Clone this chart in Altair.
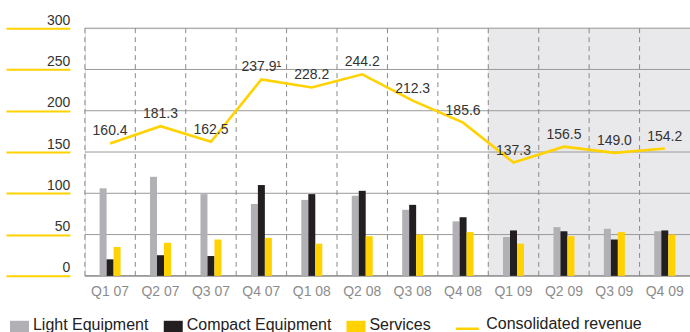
import altair as alt
import pandas as pd

quarters = ["Q1 07", "Q2 07", "Q3 07", "Q4 07", "Q1 08", "Q2 08",
            "Q3 08", "Q4 08", "Q1 09", "Q2 09", "Q3 09", "Q4 09"]
light = [106, 120, 99, 87, 92, 97, 80, 66, 47, 59, 57, 54]
compact = [20, 25, 24, 110, 99, 103, 86, 71, 55, 54, 44, 55]
services = [35, 40, 44, 46, 39, 48, 50, 53, 39, 48, 53, 50]
revenue = [160.4, 181.3, 162.5, 237.9, 228.2, 244.2, 212.3, 185.6, 137.3, 156.5, 149.0, 154.2]
revenue_labels = ["160.4", "181.3", "162.5", "237.9\u00b9", "228.2", "244.2",
                  "212.3", "185.6", "137.3", "156.5", "149.0", "154.2"]
shaded = ["Q1 09", "Q2 09", "Q3 09", "Q4 09"]
y_ticks = [0, 50, 100, 150, 200, 250, 300]

bar_series = ["Light Equipment", "Compact Equipment", "Services"]
bar_colors = ["#b1b1b5", "#231f20", "#ffd200"]
line_series = ["Consolidated revenue"]
line_colors = ["#ffd200"]

FONT = "Liberation Sans"

bars_df = pd.DataFrame(
    [{"q": q, "series": s, "v": v}
     for s, vals in zip(bar_series, [light, compact, services])
     for q, v in zip(quarters, vals)]
)
line_df = pd.DataFrame({"q": quarters, "v": revenue, "label": revenue_labels,
                        "series": line_series[0]})
shade_df = pd.DataFrame({"q": shaded, "top": 300, "bottom": 0})
grid_df = pd.DataFrame({"y": y_ticks})
vgrid_df = pd.DataFrame({"q": quarters})

xscale = alt.Scale(domain=quarters, paddingInner=0, paddingOuter=0)
yscale = alt.Scale(domain=[0, 300], nice=False)

x_axis = alt.Axis(title=None, ticks=False, domain=False, grid=False,
                  labelFont=FONT, labelFontSize=14, labelColor="#8c8c8c",
                  labelPadding=9, labelAngle=0)
y_axis = alt.Axis(title=None, values=y_ticks, domain=False, grid=False,
                  ticks=True, tickSize=64, tickColor="#ffd200", tickWidth=2,
                  offset=15, labelPadding=-64, labelAlign="right",
                  labelBaseline="alphabetic", labelOffset=-4,
                  labelFont=FONT, labelFontSize=14, labelColor="#333333")

shade = alt.Chart(shade_df).mark_rect(color="#e9e9eb", stroke="#e9e9eb", strokeWidth=0.6).encode(
    x=alt.X("q:N", scale=xscale, axis=x_axis, sort=quarters),
    y=alt.Y("top:Q", scale=yscale, axis=y_axis),
    y2="bottom:Q",
)

hgrid = alt.Chart(grid_df).mark_rule(color="#9a9a9a").encode(
    y=alt.Y("y:Q", scale=yscale),
    strokeWidth=alt.condition("datum.y == 0", alt.value(1.6), alt.value(1)),
)

vgrid = alt.Chart(vgrid_df).mark_rule(color="#8a8a8a", strokeWidth=1, strokeDash=[5, 4]).encode(
    x=alt.X("q:N", scale=xscale, sort=quarters, bandPosition=0),
    y=alt.datum(300, scale=yscale),
    y2=alt.datum(0),
)

bars = alt.Chart(bars_df).mark_bar().encode(
    x=alt.X("q:N", scale=xscale, sort=quarters),
    xOffset=alt.XOffset("series:N", scale=alt.Scale(domain=bar_series, paddingInner=0,
                                                     paddingOuter=0, range=[14.75, 35.75])),
    y=alt.Y("v:Q", scale=yscale),
    color=alt.Color("series:N", scale=alt.Scale(domain=bar_series, range=bar_colors),
                    legend=alt.Legend(
                        title=None, orient="none", direction="horizontal",
                        legendX=-75, legendY=293, padding=0,
                        symbolSize=361, symbolType="square", symbolStrokeWidth=0,
                        symbolOpacity=1,
                        labelFont=FONT, labelFontSize=16, labelColor="#222222",
                        labelBaseline="alphabetic", labelOffset=4, columnPadding=15)),
)

line = alt.Chart(line_df).mark_line(strokeWidth=2.6).encode(
    x=alt.X("q:N", scale=xscale, sort=quarters),
    y=alt.Y("v:Q", scale=yscale),
    stroke=alt.Stroke("series:N", scale=alt.Scale(domain=line_series, range=line_colors),
                      legend=alt.Legend(
                          title=None, orient="none", direction="horizontal",
                          legendX=370, legendY=288, padding=0,
                          symbolSize=529, symbolType="stroke", symbolStrokeWidth=2.5,
                          labelFont=FONT, labelFontSize=16, labelColor="#222222",
                          labelBaseline="alphabetic", labelOffset=6)),
)

labels = alt.Chart(line_df).mark_text(font=FONT, fontSize=14, color="#333333",
                                      baseline="middle", dy=-12).encode(
    x=alt.X("q:N", scale=xscale, sort=quarters),
    y=alt.Y("v:Q", scale=yscale),
    text="label:N",
)

chart = alt.layer(shade, hgrid, vgrid, bars, line, labels).properties(
    width=606, height=248,
    autosize=alt.AutoSizeParams(type="none"),
    padding={"left": 85, "top": 28, "right": 0, "bottom": 56},
).configure_view(stroke=None).configure(background="white")

chart.save("out.html", embed_options={"renderer": "svg", "actions": False})
